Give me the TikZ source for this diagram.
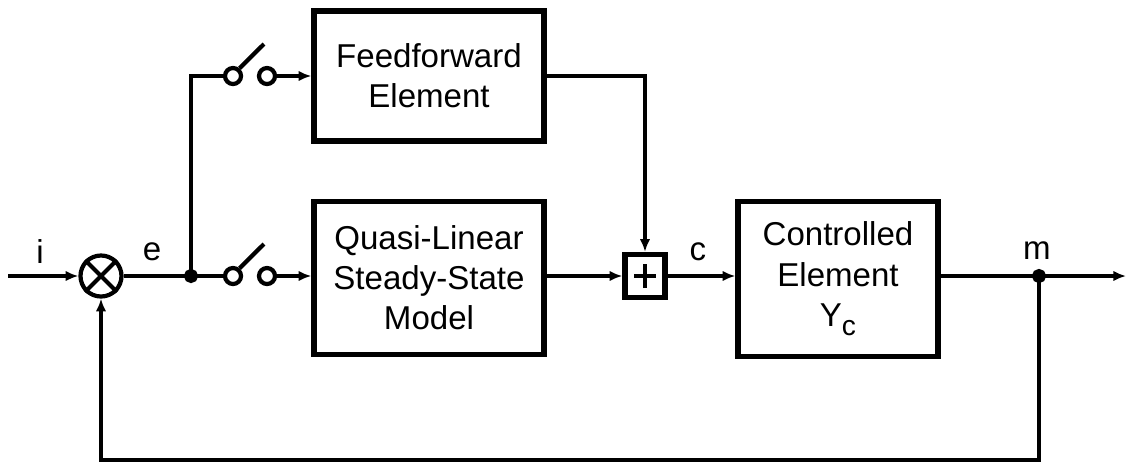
\documentclass[tikz,border=0pt]{standalone}
\usepackage{fontspec}
\setmainfont{Liberation Sans}
\usetikzlibrary{positioning, shapes, arrows, arrows.meta}
\tikzset{
  blk/.style={draw, line width=1.5pt, align=center, inner sep=0pt},
  sw/.style={draw, circle, minimum size=0.16cm, inner sep=0pt},
  sig/.style={-{Latex[length=3.6pt,width=3pt]}}}

\begin{document}
\begin{tikzpicture}[x=0.01cm, y=-0.01cm, line width=1.2pt,
    font=\fontsize{9.4}{11.4}\selectfont]
  \useasboundingbox (0,0) rectangle (1127,463);
    \coordinate (in) at (8,276);
    \coordinate (br) at (191,276);
    \coordinate (up) at (191,76);
    \coordinate (lev1) at (264,44);
    \coordinate (lev2) at (264,244);
    \coordinate (mo) at (1039,276);
    \coordinate (out) at (1126,276);
    \coordinate (fb1) at (1039,460);
    \coordinate (fb2) at (101,460);
  \node [draw, circle, minimum size=0.41cm, inner sep=0pt] (sj) at (101,276) {};
  \node [sw] (s1a) at (233,76) {};
  \node [sw] (s1b) at (267,76) {};
  \node [sw] (s2a) at (233,276) {};
  \node [sw] (s2b) at (267,276) {};
  \node [blk, minimum width=2.3cm, minimum height=1.3cm] (ff) at (429,76) {Feedforward\\Element};
  \node [blk, minimum width=2.3cm, minimum height=1.53cm] (ql) at (429,278) {Quasi-Linear\\Steady-State\\Model};
  \node [draw, line width=1.5pt, minimum width=0.4cm, minimum height=0.43cm, inner sep=0pt] (sb) at (645,276) {};
  \node [blk, minimum width=2cm, minimum height=1.55cm] (ce) at (838,279) {Controlled\\Element\\Y\raisebox{-0.55ex}{\footnotesize c}};
  \node (ilab) at (40,252) {i};
  \node (elab) at (152,252) {e};
  \node (clab) at (698,252) {c};
  \node (mlab) at (1037,251) {m};
  % junction marks
  \draw (sj.45) -- (sj.225) (sj.135) -- (sj.-45);
  \draw ([xshift=-0.11cm]sb.center) -- ([xshift=0.11cm]sb.center)
        ([yshift=-0.12cm]sb.center) -- ([yshift=0.12cm]sb.center);
  % signal lines
  \draw [sig] (in) -- (sj);
  \draw (sj) -- (br) -- (s2a);
  \draw (br) -- (up) -- (s1a);
  \draw (s1a.50) -- (lev1);
  \draw (s2a.50) -- (lev2);
  \draw [sig] (s1b) -- (s1b -| ff.west);
  \draw [sig] (s2b) -- (s2b -| ql.west);
  \draw [sig] (ff.east) -| (sb.north);
  \draw [sig] (sb -| ql.east) -- (sb.west);
  \draw [sig] (sb.east) -- (sb -| ce.west);
  \draw (sb -| ce.east) -- (mo);
  \draw [sig] (mo) -- (out);
  \draw [sig] (mo) -- (fb1) -- (fb2) -- (sj.south);
    \draw [fill] (br) circle (1.4pt);
    \draw [fill] (mo) circle (1.4pt);
\end{tikzpicture}
\end{document}
